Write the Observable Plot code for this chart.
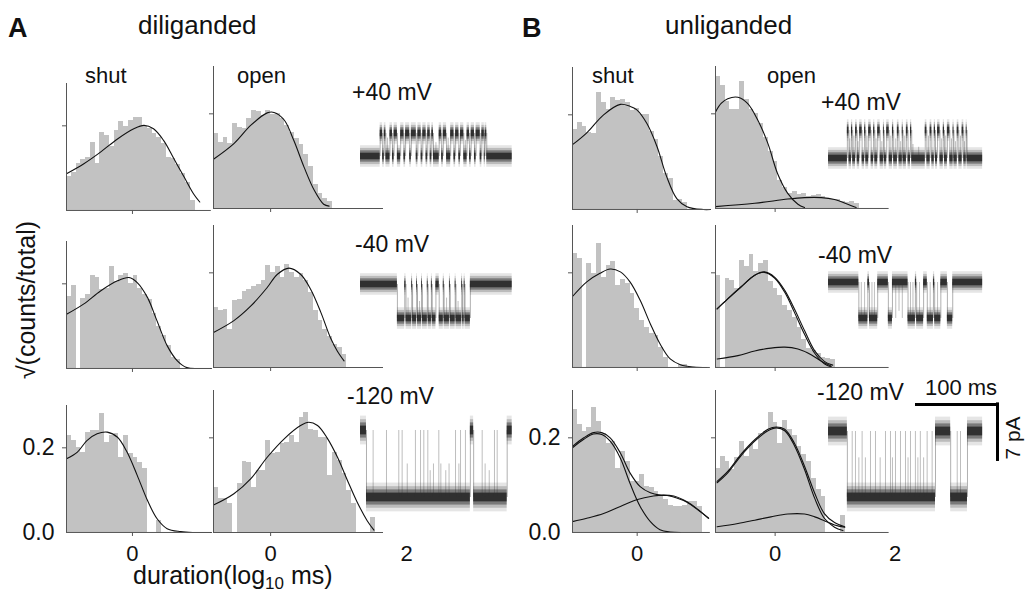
<!DOCTYPE html>
<html><head><meta charset="utf-8">
<script src="https://cdn.jsdelivr.net/npm/d3@7"></script>
<script src="https://cdn.jsdelivr.net/npm/@observablehq/plot@0.6"></script>
<style>
body{margin:0;background:#fff;}
#fig{position:relative;width:1028px;height:597px;overflow:hidden;font-family:"Liberation Sans",Arial,Helvetica,sans-serif;background:#fff;}
#fig svg{position:absolute;overflow:visible;}
</style></head><body><div id="fig"></div>
<script>
// ================= DATA =================
const panelTitles = ["diliganded", "unliganded"];
const panelLetters = ["A", "B"];
const columnLabels = ["shut", "open"];
const voltages = ["+40 mV", "-40 mV", "-120 mV"];
const xTicks = [0, 2];
const yTicks = [0.0, 0.2];
const yLabel = "√(counts/total)";
const scaleBarMs = 100, scaleBarPA = 7;
const scaleBarLabels = ["100 ms", "7 pA"];

// histogram bins (log10 ms): first bin edge and bin width
const binA = 0.07, binB = 0.08;
const startShutA = -0.97, startOpenA = -0.84, startShutB = -1.078, startOpenB = -0.994;

// A: diliganded, sqrt(counts/total)
const A_shut_p40 = [0.08,0.09,0.11,0.12,0.126,0.16,0.11,0.185,0.177,0.15,0.19,0.21,0.198,0.213,0.22,0.219,0.198,0.193,0.183,0.173,0.159,0.126,0.122,0.109,0.087,0.067,0.024];
const A_open_p40 = [0.158,0.14,0.15,0.137,0.18,0.172,0.168,0.19,0.208,0.204,0.197,0.208,0.198,0.2,0.19,0.175,0.16,0.148,0.135,0.115,0.088,0.05,0.032,0.022,0.014];
const A_shut_m40 = [0.17,0.195,0,0.165,0.175,0.22,0.215,0.187,0.19,0.24,0.205,0.22,0.225,0.2,0.22,0.19,0.175,0.162,0.13,0.1,0.078,0.055,0.026,0.022];
const A_open_m40 = [0.127,0.12,0.123,0.081,0.141,0.144,0.16,0.165,0.172,0.175,0.183,0.215,0.2,0.213,0.19,0.218,0.2,0.19,0.198,0.183,0.158,0.12,0.1,0.08,0.065,0.048,0.042,0.028];
const A_shut_m120 = [0.229,0.217,0.2,0.19,0.237,0.24,0.24,0.282,0.213,0.229,0.233,0.178,0.229,0.186,0.178,0.166,0.151,0,0,0.029];
const A_open_m120 = [0.096,0.071,0.071,0.061,0,0.103,0.15,0.148,0.096,0.131,0.131,0.194,0.166,0.17,0.187,0.191,0.204,0.191,0.243,0.253,0.218,0.215,0.2,0.2,0.12,0.169,0.152,0.124,0.089,0.061,0,0,0,0.032];

// B: unliganded
const B_shut_p40 = [0.169,0.184,0.176,0.162,0.16,0.247,0.226,0.212,0.236,0.23,0.233,0.226,0.21,0.213,0.2,0.2,0.165,0.148,0.112,0.077,0.066,0.02,0.021,0.015];
const B_open_p40 = [0.278,0.26,0.225,0.21,0.21,0.268,0.23,0.21,0.2,0.18,0.15,0.12,0.1,0.06,0.045,0.032,0.035,0.03,0.032,0.025,0.027,0.03,0.025,0.021,0.02,0.018,0.014,0.012,0.014,0.01];
const B_shut_m40 = [0.241,0.23,0,0.22,0.199,0.262,0.19,0.215,0.223,0.174,0.185,0.177,0.156,0.125,0.1,0.085,0.072,0.067,0.043,0.021,0,0,0.007,0.007];
const B_open_m40 = [0.195,0,0.188,0.184,0.167,0.227,0.213,0.238,0.202,0.22,0.227,0.181,0.167,0.152,0.131,0.121,0.106,0.085,0.06,0.04,0.036,0.03,0.022,0.018,0.016];
const B_shut_m120 = [0.26,0.228,0.214,0.221,0.264,0.235,0.21,0.189,0.193,0.136,0.172,0.15,0.108,0.108,0.122,0.097,0.094,0.087,0.079,0.069,0.058,0.055,0.055,0.058,0.065,0.065,0.055];
const B_open_m120 = [0.136,0.161,0.15,0.133,0.158,0.193,0.161,0.186,0.175,0.21,0.214,0.253,0.232,0.189,0.236,0.218,0.204,0.182,0.165,0.15,0.115,0.09,0.076,0,0,0,0.035];

// fitted curves [log10 ms, sqrt(counts/total)]
const A_shut_p40_fit = [[-0.97,0.087],[-0.72,0.11],[-0.47,0.138],[-0.22,0.169],[0.02,0.193],[0.17,0.201],[0.31,0.193],[0.46,0.165],[0.61,0.122],[0.76,0.079],[0.9,0.039],[0.99,0.02]];
const A_open_p40_fit = [[-0.84,0.104],[-0.54,0.137],[-0.29,0.176],[-0.05,0.202],[0.05,0.203],[0.2,0.187],[0.34,0.144],[0.49,0.088],[0.64,0.039],[0.78,0.009],[0.86,0.005]];
const A_shut_m40_fit = [[-0.97,0.128],[-0.72,0.152],[-0.47,0.183],[-0.22,0.207],[-0.05,0.215],[0.07,0.203],[0.22,0.168],[0.36,0.113],[0.51,0.054],[0.66,0.018],[0.8,0.002],[1.0,0],[1.16,0]];
const A_open_m40_fit = [[-0.84,0.074],[-0.54,0.099],[-0.29,0.13],[-0.05,0.169],[0.1,0.197],[0.27,0.21],[0.44,0.197],[0.59,0.165],[0.74,0.116],[0.88,0.063],[0.98,0.035],[1.08,0.014]];
const A_shut_m120_fit = [[-0.97,0.174],[-0.81,0.19],[-0.67,0.217],[-0.52,0.233],[-0.37,0.237],[-0.22,0.225],[-0.08,0.19],[0.07,0.135],[0.22,0.076],[0.36,0.033],[0.51,0.009],[0.71,0.002],[0.9,0],[1.16,0]];
const A_open_m120_fit = [[-0.84,0.058],[-0.54,0.082],[-0.29,0.114],[-0.05,0.159],[0.2,0.198],[0.44,0.226],[0.56,0.233],[0.69,0.226],[0.83,0.2],[0.98,0.16],[1.13,0.11],[1.27,0.065],[1.42,0.025],[1.52,0.005]];

const B_shut_p40_fit = [[-1.078,0.137],[-0.84,0.162],[-0.56,0.2],[-0.28,0.222],[-0.12,0.218],[-0.01,0.211],[0.16,0.182],[0.33,0.133],[0.49,0.07],[0.66,0.023],[0.83,0.006],[1.1,0],[1.22,0]];
const B_open_p40_fit = [[-0.994,0.204],[-0.9,0.222],[-0.79,0.232],[-0.62,0.235],[-0.46,0.222],[-0.29,0.187],[-0.12,0.137],[0.04,0.074],[0.21,0.032],[0.38,0.009],[0.49,0.002]];
const B_open_p40_fit2 = [[-0.994,0.004],[-0.34,0.011],[0.21,0.02],[0.49,0.023],[0.77,0.023],[0.99,0.019],[1.21,0.009],[1.35,0.002]];
const B_shut_m40_fit = [[-1.078,0.15],[-0.84,0.181],[-0.62,0.199],[-0.45,0.208],[-0.28,0.202],[-0.12,0.181],[0.05,0.142],[0.22,0.092],[0.38,0.05],[0.55,0.018],[0.72,0.006],[0.94,0.001],[1.16,0]];
const B_open_m40_fit = [[-0.967,0.124],[-0.79,0.145],[-0.57,0.17],[-0.34,0.195],[-0.18,0.202],[-0.01,0.191],[0.16,0.163],[0.32,0.124],[0.49,0.078],[0.66,0.035],[0.82,0.013],[0.96,0.005]];
const B_open_m40_fit1 = [[-0.967,0.124],[-0.79,0.145],[-0.57,0.17],[-0.34,0.195],[-0.18,0.201],[-0.01,0.189],[0.16,0.159],[0.32,0.117],[0.49,0.07],[0.66,0.03],[0.82,0.008],[0.94,0.001]];
const B_open_m40_fit2 = [[-0.967,0.018],[-0.62,0.025],[-0.34,0.035],[-0.07,0.041],[0.16,0.043],[0.38,0.039],[0.6,0.027],[0.77,0.013],[0.93,0.003]];
const B_shut_m120_fit = [[-1.078,0.182],[-0.89,0.2],[-0.73,0.211],[-0.59,0.211],[-0.45,0.2],[-0.28,0.168],[-0.12,0.126],[0.05,0.097],[0.22,0.084],[0.38,0.079],[0.5,0.078],[0.66,0.073],[0.83,0.064],[0.99,0.05],[1.19,0.03]];
const B_shut_m120_fit1 = [[-1.078,0.179],[-0.89,0.197],[-0.73,0.208],[-0.59,0.207],[-0.45,0.193],[-0.28,0.157],[-0.12,0.104],[0.05,0.055],[0.22,0.023],[0.38,0.006],[0.55,0.001],[0.72,0]];
const B_shut_m120_fit2 = [[-1.078,0.023],[-0.84,0.03],[-0.56,0.04],[-0.28,0.055],[-0.01,0.069],[0.27,0.077],[0.44,0.079],[0.61,0.077],[0.83,0.065],[0.99,0.051],[1.19,0.03]];
const B_open_m120_fit = [[-0.967,0.108],[-0.79,0.129],[-0.57,0.165],[-0.34,0.196],[-0.12,0.218],[0.02,0.223],[0.16,0.218],[0.32,0.189],[0.49,0.14],[0.66,0.083],[0.82,0.04],[0.99,0.021],[1.16,0.012]];
const B_open_m120_fit1 = [[-0.967,0.105],[-0.79,0.126],[-0.57,0.162],[-0.34,0.193],[-0.12,0.215],[0.02,0.221],[0.16,0.215],[0.32,0.184],[0.49,0.133],[0.66,0.072],[0.82,0.03],[0.99,0.011],[1.13,0.004]];
const B_open_m120_fit2 = [[-0.967,0.012],[-0.62,0.019],[-0.34,0.026],[-0.07,0.033],[0.21,0.039],[0.49,0.039],[0.66,0.033],[0.82,0.025],[0.99,0.016],[1.16,0.011]];

// single-channel traces: open intervals [ms, ms], brief events [ms, fraction of amplitude]
const ampA = [2.83, -4.18, -8.23];   // pA, open relative to closed
const ampB = [3.44, -4.42, -8.1];
const A_p40_open = [[24,27],[29,31],[36,39],[41,45],[49,53],[55,60],[62,68],[70,74],[76,80],[82,85],[87,89],[96,99],[101,105],[110,114],[116,120],[122,126],[130,133],[135,139],[141,146],[148,151],[152,154]];
const A_p40_brief = [[33,0.8],[92,0.6],[107,0.8],[128,0.7]];
const A_m40_open = [[45,54],[55.5,62.5],[63.5,68.5],[69.5,74.5],[75.5,81.5],[82.5,86.5],[87.5,92],[96,101],[102,108.5],[109.5,115.5],[116.5,123.5],[124.5,126.5],[127.5,134]];
const A_m40_brief = [[58,0.6],[72,0.5],[105,0.6],[119,0.5]];
const A_m120_open = [[7.3,134],[138,178.9]];
const A_m120_brief = [[15.4,1],[31.7,1],[46.7,1],[50.8,1],[67,1],[73.2,1],[77.2,1],[82.1,1],[95.5,1],[115.9,1],[122,1],[128,1],[148.4,1],[163.4,1],[166.7,1],[57,0.5],[85,0.4],[89,0.5],[98,0.5],[104,0.4],[108,0.5],[120,0.5],[152,0.5],[157,0.4]];
const B_p40_open = [[23,25],[28,29.5],[33,35],[38,41],[44,45.5],[49,52],[55,56.5],[60,63],[67,68],[71,74],[78,79.5],[84,86],[90,91],[95,97],[100,101.5],[118,120],[124,126],[129,130.5],[133,136],[140,141.5],[145,148],[152,153],[157,159],[163,165],[168,169]];
const B_p40_brief = [[26,0.7],[31,0.8],[36,0.6],[47,0.8],[58,0.7],[65,0.6],[76,0.8],[82,0.7],[88,0.6],[93,0.8],[103,0.5],[110,0.4],[122,0.8],[138,0.7],[143,0.8],[150,0.7],[155,0.6],[161,0.8],[166,0.6]];
const B_m40_open = [[37,48],[50,60],[73,78],[97,106],[107.5,116],[120.5,128],[129.5,137],[145,151.5]];
const B_m40_brief = [[40,1],[44,1],[53,1],[56,1],[100,1],[103,1],[111,1],[124,1],[133,1],[82,1],[86,0.8],[90,1]];
const B_m120_open = [[23,130.5],[149,169.5]];
const B_m120_brief = [[28.9,1],[32.9,1],[41,1],[51.2,1],[57.3,1],[69.5,1],[75.6,1],[81.7,1],[87.8,1],[93.9,1],[100,1],[106,1],[112,1],[120.3,1],[126.4,1],[157,1],[161,1],[37,0.6],[45,0.6],[63,0.6],[78,0.6],[97,0.6],[109,0.6],[116,0.6]];

// ================= LAYOUT =================
const FONT = '"Liberation Sans", Arial, Helvetica, sans-serif';
const fig = document.getElementById("fig");
const AX = "#555";

function histPanel(c) {
  const W = (c.xmax - c.xmin) * c.unit;
  const pxY = c.H / 0.3;
  const bars = c.values.map((v, i) => ({x1: c.start + i * c.bw, x2: c.start + (i + 1) * c.bw, y: v}));
  const tY = 4 / pxY, tX = 4 / c.unit;
  const marks = [
    Plot.rectY(bars, {x1: "x1", x2: "x2", y: "y", fill: "#c2c2c2", shapeRendering: "crispEdges"}),
    ...c.fits.map(f => Plot.line(f, {x: d => d[0], y: d => d[1], curve: "catmull-rom", stroke: "#111", strokeWidth: 1.1})),
    Plot.ruleX([c.xmin], {y1: 0, y2: 0.3, stroke: AX, strokeWidth: 1}),
    Plot.ruleY([0], {x1: c.xmin, x2: c.xmax, stroke: AX, strokeWidth: 1}),
    Plot.ruleX(xTicks.filter(t => t > c.xmin && t < c.xmax), {y1: 0, y2: -tY, stroke: AX}),
    Plot.ruleY(yTicks.filter(v => v > 0), {x1: c.xmin - tX, x2: c.xmin, stroke: AX})
  ];
  if (c.bottom) marks.push(Plot.text(xTicks.filter(t => t > c.xmin && t <= c.xmax + 0.5),
    {x: d => d, y: 0, dy: 21, text: d => String(d), fontSize: 22, fill: "#111"}));
  if (c.showY) marks.push(Plot.text(yTicks, {x: c.xmin, y: d => d, dx: -12, textAnchor: "end",
    text: d => d.toFixed(1), fontSize: 23, fill: "#111"}));
  const svg = Plot.plot({
    width: W, height: c.H, margin: 0,
    x: {domain: [c.xmin, c.xmax], axis: null},
    y: {domain: [0, 0.3], axis: null},
    style: {overflow: "visible", background: "transparent", fontFamily: FONT},
    marks
  });
  svg.style.position = "absolute";
  svg.style.left = c.left + "px";
  svg.style.top = (c.baseline - c.H) + "px";
  fig.appendChild(svg);
}

const MS_PX = 0.82, PA_PX = 8.14;
function tracePanel(c) {
  const W = c.T * MS_PX;
  const half = 50 / PA_PX;
  const closed = []; let t0 = 0;
  for (const [a, b] of c.open) { if (a > t0) closed.push([t0, a]); t0 = b; }
  if (t0 < c.T) closed.push([t0, c.T]);
  const amp = c.amp, n = c.noise / PA_PX;
  const dwells = [...closed.map(([a, b]) => ({a, b, lev: 0})), ...c.open.map(([a, b]) => ({a, b, lev: amp}))];
  const edges = c.open.flatMap(([a, b]) => [a, b]);
  const isOpen = t => c.open.some(([a, b]) => t >= a && t <= b);
  const brief = c.brief.map(([t, f]) => {
    const from = isOpen(t) ? amp : 0, to = isOpen(t) ? 0 : amp;
    return {t, y1: from, y2: from + f * (to - from)};
  });
  const band = (k, op) => Plot.rect(dwells, {x1: "a", x2: "b", y1: d => d.lev - k * n, y2: d => d.lev + k * n, fill: "#000", fillOpacity: op});
  const marks = [
    band(1.8, 0.1), band(1.35, 0.18), band(0.95, 0.35), band(0.55, 0.6),
    Plot.ruleX(edges, {y1: 0, y2: amp, stroke: "#222", strokeOpacity: 0.45, strokeWidth: 0.8}),
    Plot.ruleX(brief, {x: "t", y1: "y1", y2: "y2", stroke: "#333", strokeOpacity: 0.4, strokeWidth: 0.8})
  ];
  if (c.scale) {
    const x0 = c.scale.x0, y0 = c.scale.y0;
    marks.push(Plot.ruleY([y0], {x1: x0, x2: x0 + scaleBarMs, stroke: "#000", strokeWidth: 3}));
    marks.push(Plot.ruleX([x0 + scaleBarMs], {y1: y0 + 0.2, y2: y0 - scaleBarPA, stroke: "#000", strokeWidth: 3}));
  }
  const svg = Plot.plot({
    width: W, height: 100, margin: 0,
    x: {domain: [0, c.T], axis: null},
    y: {domain: [-half, half], axis: null},
    style: {overflow: "visible", background: "transparent", fontFamily: FONT},
    marks
  });
  svg.style.position = "absolute";
  svg.style.left = c.left + "px";
  svg.style.top = (c.closedY - 50) + "px";
  fig.appendChild(svg);
}

// ---- histograms ----
const rowsA = [
  {shut: A_shut_p40, open: A_open_p40, sf: [A_shut_p40_fit], of: [A_open_p40_fit], bs: 210, bo: 208},
  {shut: A_shut_m40, open: A_open_m40, sf: [A_shut_m40_fit], of: [A_open_m40_fit], bs: 368, bo: 367},
  {shut: A_shut_m120, open: A_open_m120, sf: [A_shut_m120_fit], of: [A_open_m120_fit], bs: 532, bo: 532}
];
const rowsB = [
  {shut: B_shut_p40, open: B_open_p40, sf: [B_shut_p40_fit], of: [B_open_p40_fit, B_open_p40_fit2], bs: 209, bo: 208},
  {shut: B_shut_m40, open: B_open_m40, sf: [B_shut_m40_fit], of: [B_open_m40_fit, B_open_m40_fit1, B_open_m40_fit2], bs: 367, bo: 367},
  {shut: B_shut_m120, open: B_open_m120, sf: [B_shut_m120_fit, B_shut_m120_fit1, B_shut_m120_fit2], of: [B_open_m120_fit, B_open_m120_fit1, B_open_m120_fit2], bs: 532, bo: 532}
];
rowsA.forEach((r, i) => {
  const bottom = i === 2;
  histPanel({left: 66, baseline: r.bs, H: 127, unit: 68, xmin: -0.97, xmax: 1.16, values: r.shut, start: startShutA, bw: binA, fits: r.sf, bottom, showY: bottom});
  histPanel({left: 213, baseline: r.bo, H: 142, unit: 68, xmin: -0.84, xmax: 1.66, values: r.open, start: startOpenA, bw: binA, fits: r.of, bottom, showY: false});
});
rowsB.forEach((r, i) => {
  const bottom = i === 2;
  histPanel({left: 572, baseline: r.bs, H: 142, unit: 60, xmin: -1.078, xmax: 1.22, values: r.shut, start: startShutB, bw: binB, fits: r.sf, bottom, showY: bottom});
  histPanel({left: 714.5, baseline: r.bo, H: 142, unit: 60, xmin: -0.994, xmax: 1.9, values: r.open, start: startOpenB, bw: binB, fits: r.of, bottom, showY: false});
});

// ---- traces ----
tracePanel({left: 360, closedY: 156, T: 185, amp: ampA[0], noise: 6, open: A_p40_open, brief: A_p40_brief});
tracePanel({left: 360, closedY: 284, T: 185, amp: ampA[1], noise: 6, open: A_m40_open, brief: A_m40_brief});
tracePanel({left: 360, closedY: 430, T: 185, amp: ampA[2], noise: 8, open: A_m120_open, brief: A_m120_brief});
tracePanel({left: 828, closedY: 158, T: 188, amp: ampB[0], noise: 6, open: B_p40_open, brief: B_p40_brief});
tracePanel({left: 828, closedY: 282, T: 188, amp: ampB[1], noise: 6, open: B_m40_open, brief: B_m40_brief});
tracePanel({left: 828, closedY: 431, T: 188, amp: ampB[2], noise: 8, open: B_m120_open, brief: B_m120_brief,
  scale: {x0: (915 - 828) / MS_PX, y0: (431 - 404) / PA_PX}});

// ---- annotation text ----
const NS = "http://www.w3.org/2000/svg";
const ov = document.createElementNS(NS, "svg");
ov.setAttribute("width", 1028); ov.setAttribute("height", 597);
ov.style.left = "0px"; ov.style.top = "0px"; ov.style.fontFamily = FONT;
function txt(s, x, y, size, opts = {}) {
  const t = document.createElementNS(NS, "text");
  t.setAttribute("x", x); t.setAttribute("y", y);
  t.setAttribute("font-size", size);
  t.setAttribute("fill", "#111");
  if (opts.bold) t.setAttribute("font-weight", "bold");
  if (opts.anchor) t.setAttribute("text-anchor", opts.anchor);
  if (opts.transform) { t.setAttribute("transform", opts.transform); t.setAttribute("x", 0); t.setAttribute("y", 0); }
  t.textContent = s;
  ov.appendChild(t);
  return t;
}
txt(panelLetters[0], 8, 36.5, 27, {bold: true});
txt(panelTitles[0], 138, 34, 26);
txt(panelLetters[1], 522, 36.5, 27, {bold: true});
txt(panelTitles[1], 665, 34, 26);
txt(columnLabels[0], 85, 83, 22); txt(columnLabels[1], 237, 83, 22);
txt(columnLabels[0], 592, 83, 22); txt(columnLabels[1], 767, 83, 22);
txt(voltages[0], 352, 100, 23); txt(voltages[1], 355, 252, 23); txt(voltages[2], 347, 404, 23);
txt(voltages[0], 821, 110, 23); txt(voltages[1], 818, 263, 23); txt(voltages[2], 817, 400, 23);
txt(scaleBarLabels[0], 961, 395, 22, {anchor: "middle"});
txt(scaleBarLabels[1], 0, 0, 21, {anchor: "middle", transform: "translate(1020,438) rotate(-90)"});
txt(yLabel, 0, 0, 25, {anchor: "middle", transform: "translate(35,300) rotate(-90)"});
const xl = txt("duration(log", 133, 584, 25);
const sub = document.createElementNS(NS, "tspan");
sub.setAttribute("font-size", 17); sub.setAttribute("dy", 5); sub.textContent = "10";
const rest = document.createElementNS(NS, "tspan");
rest.setAttribute("dy", -5); rest.textContent = " ms)";
xl.appendChild(sub); xl.appendChild(rest);
fig.appendChild(ov);
</script>
</body></html>
